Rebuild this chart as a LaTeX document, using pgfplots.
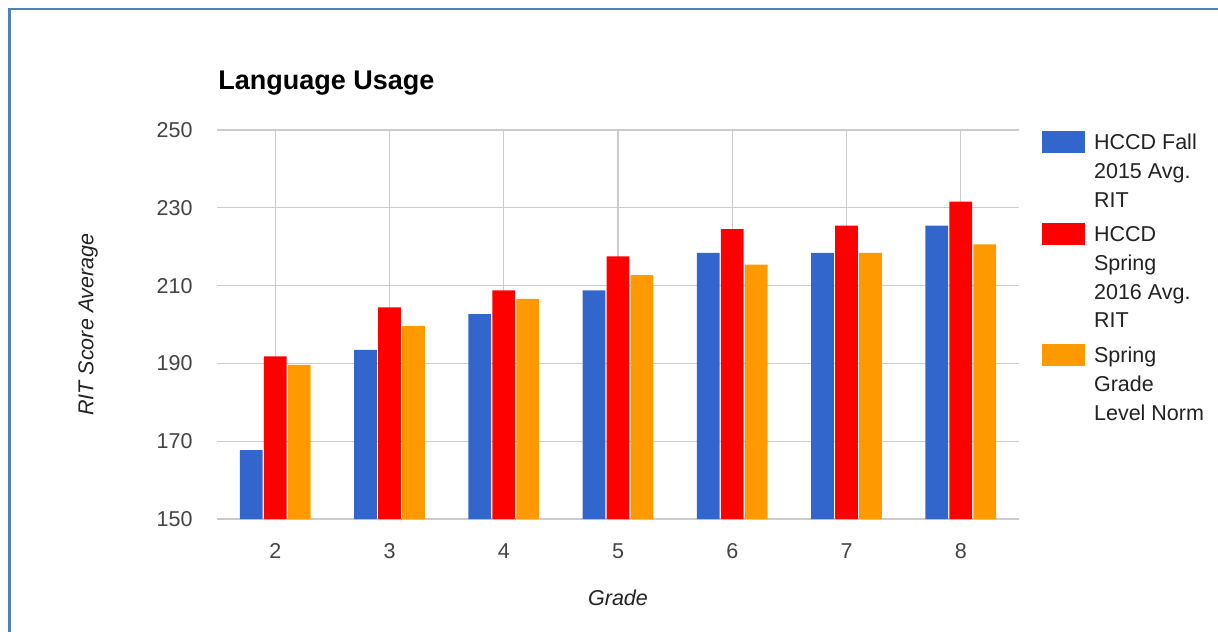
\documentclass[border=0pt]{standalone}
\usepackage{pgfplots}
\pgfplotsset{compat=1.18}
\usepackage{fontspec}
\setmainfont{Liberation Sans}
\definecolor{gblue}{HTML}{3366CC}
\definecolor{gred}{HTML}{FF0000}
\definecolor{gorange}{HTML}{FF9900}
\definecolor{gridc}{HTML}{CCCCCC}
\definecolor{framec}{HTML}{4F81BD}
\definecolor{tickc}{HTML}{444444}
\definecolor{textc}{HTML}{222222}
\pgfplotstableread{
grade fall spring norm
2 167.7 191.8 189.6
3 193.5 204.4 199.6
4 202.7 208.8 206.6
5 208.8 217.5 212.7
6 218.4 224.5 215.4
7 218.4 225.4 218.4
8 225.4 231.6 220.6
}\datatable
\pgfplotsset{
  swatchthree/.style={legend image code/.code={\fill[##1] (0bp,27.15bp) rectangle (21.7bp,38bp);}},
  swatchfour/.style={legend image code/.code={\fill[##1] (0bp,41.55bp) rectangle (21.7bp,52.4bp);}},
}
\begin{document}
\begin{tikzpicture}
\useasboundingbox (0,0) rectangle (609bp,-316bp);
\draw[framec, line width=1.15bp] (4.75bp,-316bp) -- (4.75bp,-4.4bp) -- (609bp,-4.4bp);
\begin{axis}[
  at={(108.5bp,-259.5bp)}, anchor=south west,
  scale only axis, width=401bp, height=194.5bp,
  ybar=0.6bp, bar width=0.2,
  xmin=1.49, xmax=8.51, ymin=150, ymax=250,
  xtick={2,...,8}, ytick={150,170,...,250},
  grid=major, major grid style={gridc, line width=0.65bp},
  axis line style={draw=none}, tick style={draw=none},
  /pgf/number format/assume math mode=true,
  ticklabel style={font=\fontsize{10.75bp}{13bp}\selectfont, text=tickc, inner sep=0pt},
  yticklabel style={anchor=east, xshift=-12bp},
  xticklabel style={anchor=north, yshift=-8bp},
  title={Language Usage},
  title style={at={(axis description cs:0,1)}, anchor=base west, yshift=14.5bp, xshift=0.5bp, inner sep=0pt, font=\fontsize{13.5bp}{16bp}\selectfont\bfseries, text=black},
  xlabel={Grade}, ylabel={RIT Score Average},
  every axis x label/.style={at={(axis description cs:0.5,-0.2031)}, anchor=center, font=\fontsize{10.75bp}{13bp}\selectfont\itshape, text=textc},
  every axis y label/.style={at={(axis description cs:-0.1608,0.5)}, rotate=90, anchor=center, font=\fontsize{10.75bp}{13bp}\selectfont\itshape, text=textc},
  legend style={draw=none, fill=none, at={(axis description cs:1.0283,1)}, anchor=north west, inner sep=0pt, outer sep=0pt, font=\fontsize{10.75bp}{14.4bp}\selectfont, text=textc, row sep=4.2bp, column sep=2.5bp, cells={anchor=base west, align=left, inner sep=0pt}},
]
\addplot[fill=gblue, draw=none, swatchthree] table[x=grade, y=fall] {\datatable};
\addplot[fill=gred, draw=none, swatchfour] table[x=grade, y=spring] {\datatable};
\addplot[fill=gorange, draw=none, swatchthree] table[x=grade, y=norm] {\datatable};
\addlegendentry{HCCD Fall\\2015 Avg.\\RIT}
\addlegendentry{HCCD\\Spring\\2016 Avg.\\RIT}
\addlegendentry{Spring\\Grade\\Level Norm}
\end{axis}
\end{tikzpicture}
\end{document}
